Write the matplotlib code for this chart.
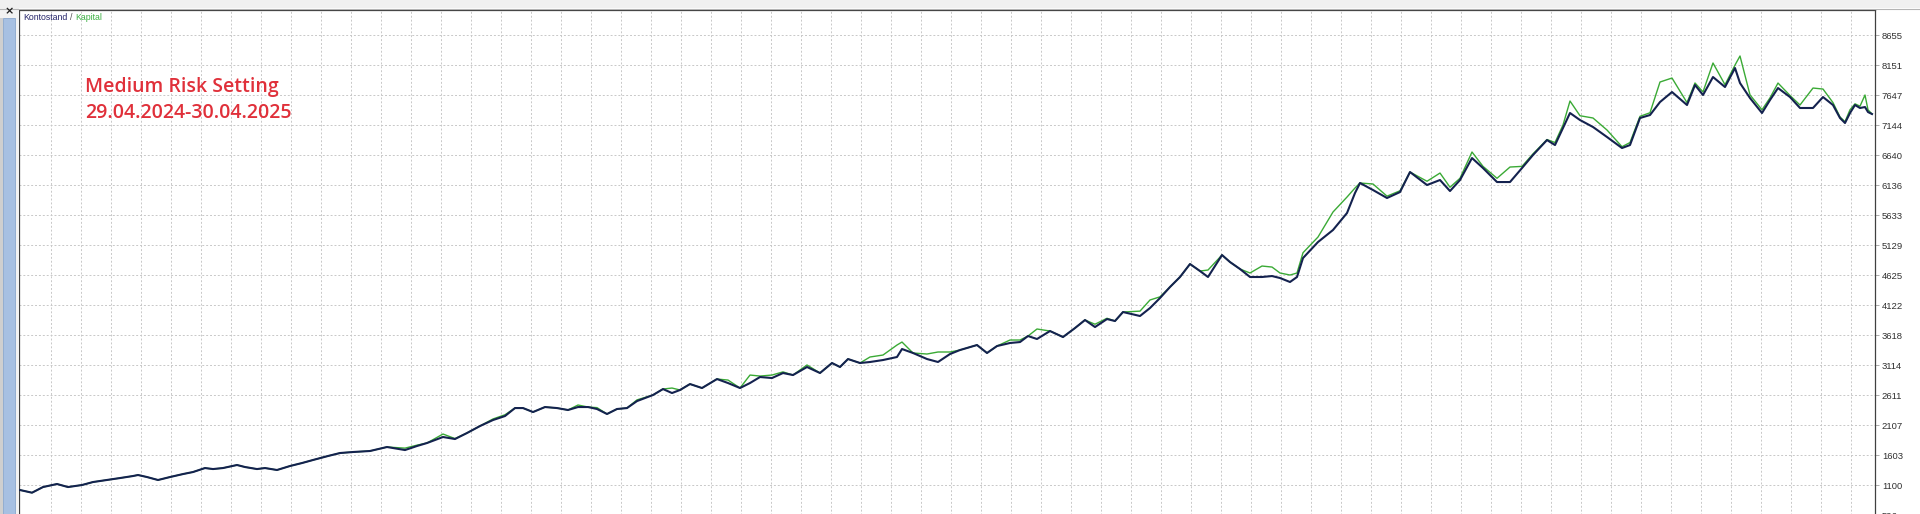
import numpy as np
import matplotlib.pyplot as plt
from matplotlib.patches import Rectangle

# deal number (x), balance and equity in USD
deals = [0, 12, 23, 37, 48, 62, 73, 87, 100, 113, 118, 127, 138, 150, 163, 173, 185, 193, 203, 217,
         225, 237, 245, 257, 270, 282, 293, 308, 320, 333, 350, 367, 385, 397, 407, 423, 435, 447, 460, 473,
         485, 495, 503, 513, 525, 537, 548, 558, 568, 577, 587, 597, 607, 617, 633, 643, 652, 660, 670, 682,
         697, 708, 720, 730, 740, 752, 763, 773, 787, 800, 812, 820, 828, 840, 850, 863, 877, 882, 893, 907,
         918, 930, 940, 957, 967, 977, 990, 1000, 1008, 1017, 1030, 1043, 1055, 1065, 1075, 1087, 1095, 1103, 1120, 1130,
         1140, 1150, 1160, 1170, 1180, 1188, 1202, 1210, 1220, 1230, 1242, 1252, 1260, 1270, 1277, 1283, 1298, 1313, 1327, 1335,
         1340, 1353, 1367, 1380, 1390, 1407, 1420, 1430, 1440, 1452, 1463, 1477, 1490, 1502, 1513, 1527, 1535, 1543, 1550, 1560,
         1573, 1587, 1602, 1610, 1620, 1630, 1640, 1652, 1667, 1675, 1683, 1693, 1705, 1715, 1720, 1730, 1742, 1750, 1758, 1770,
         1780, 1793, 1803, 1813, 1820, 1825, 1830, 1835, 1840, 1845, 1848, 1852]

balance = [1017, 972, 1067, 1118, 1067, 1101, 1151, 1185, 1218, 1252, 1269, 1235, 1185, 1235, 1285, 1319, 1386, 1369, 1386, 1437,
           1403, 1369, 1386, 1353, 1420, 1470, 1521, 1588, 1638, 1655, 1672, 1739, 1688, 1756, 1806, 1907, 1873, 1974, 2091, 2192,
           2259, 2393, 2393, 2326, 2410, 2393, 2360, 2410, 2410, 2377, 2293, 2377, 2393, 2510, 2612, 2712, 2645, 2696, 2796, 2729,
           2880, 2813, 2729, 2813, 2914, 2897, 2981, 2947, 3082, 2981, 3149, 3082, 3216, 3149, 3166, 3199, 3250, 3384, 3317, 3216,
           3166, 3300, 3367, 3451, 3317, 3434, 3485, 3501, 3602, 3552, 3686, 3585, 3736, 3871, 3753, 3887, 3854, 4005, 3938, 4072,
           4240, 4425, 4593, 4811, 4693, 4593, 4962, 4844, 4727, 4593, 4593, 4609, 4576, 4509, 4593, 4911, 5180, 5382, 5667, 6003,
           6171, 6053, 5919, 6019, 6355, 6137, 6221, 6036, 6221, 6590, 6422, 6187, 6187, 6422, 6641, 6892, 6808, 7094, 7346, 7228,
           7111, 6943, 6758, 6808, 7262, 7312, 7530, 7698, 7480, 7816, 7648, 7950, 7782, 8101, 7849, 7597, 7346, 7564, 7765, 7614,
           7430, 7430, 7614, 7480, 7262, 7178, 7346, 7480, 7430, 7446, 7362, 7329]

equity = [1017, 972, 1067, 1118, 1067, 1101, 1151, 1185, 1218, 1252, 1269, 1235, 1185, 1235, 1285, 1319, 1386, 1369, 1386, 1437,
          1403, 1369, 1386, 1353, 1420, 1470, 1521, 1588, 1638, 1655, 1672, 1739, 1720, 1770, 1806, 1957, 1880, 1974, 2091, 2210,
          2280, 2393, 2393, 2326, 2410, 2393, 2360, 2444, 2410, 2400, 2293, 2377, 2393, 2530, 2612, 2712, 2729, 2696, 2796, 2729,
          2880, 2863, 2729, 2947, 2930, 2947, 3000, 2947, 3116, 2981, 3149, 3082, 3216, 3149, 3250, 3283, 3451, 3501, 3317, 3300,
          3334, 3334, 3367, 3451, 3317, 3434, 3535, 3535, 3602, 3720, 3686, 3585, 3736, 3871, 3800, 3900, 3854, 4005, 4020, 4207,
          4260, 4425, 4593, 4811, 4693, 4710, 4962, 4844, 4727, 4660, 4777, 4760, 4660, 4626, 4660, 5000, 5264, 5684, 5935, 6087,
          6171, 6154, 5950, 6040, 6355, 6200, 6338, 6100, 6250, 6691, 6450, 6250, 6439, 6450, 6660, 6900, 6850, 7144, 7547, 7300,
          7262, 7060, 6780, 6850, 7290, 7350, 7866, 7933, 7520, 7850, 7700, 8185, 7820, 8150, 8303, 7650, 7400, 7600, 7849, 7640,
          7480, 7765, 7748, 7520, 7280, 7200, 7400, 7500, 7460, 7648, 7400, 7329]

ytick_vals = [596, 1100, 1603, 2107, 2611, 3114, 3618, 4122, 4625, 5129, 5633, 6136, 6640, 7144, 7647, 8151, 8655]

W, H = 1920, 514
fig = plt.figure(figsize=(W / 100, H / 100), dpi=100, facecolor='white')

# window chrome around the chart
fig.patches.append(Rectangle((0, 1 - 8 / H), 1, 8 / H, transform=fig.transFigure,
                             facecolor='#f0f0f0', edgecolor='none', zorder=0))
fig.add_artist(plt.Line2D([0, 1], [1 - 8.5 / H, 1 - 8.5 / H], transform=fig.transFigure,
                          color='#b4b4b4', lw=0.8))
fig.patches.append(Rectangle((0, 0), 19 / W, 1 - 8 / H, transform=fig.transFigure,
                             facecolor='#f2f2f2', edgecolor='none', zorder=0))
fig.patches.append(Rectangle((0, 0), 3 / W, 1 - 18 / H, transform=fig.transFigure,
                             facecolor='#cfcfcf', edgecolor='none', zorder=0))
fig.patches.append(Rectangle((3 / W, 0), 12 / W, 1 - 18 / H, transform=fig.transFigure,
                             facecolor='#a7c0e2', edgecolor='#8aa6cc', lw=0.6, zorder=0))
fig.text(9 / W, 1 - 11 / H, '×', fontsize=8, color='#202020', ha='center', va='center',
         fontweight='bold')

ax = fig.add_axes([19 / W, -26 / H, (1875 - 19) / W, (540 - 10) / H])
ax.set_facecolor('white')

ax.plot(deals, equity, color='#3aaa35', lw=1.0, zorder=3)
ax.plot(deals, balance, color='#14224f', lw=1.5, zorder=4)

ax.set_xlim(-1, 1855)
ax.set_ylim(178, 9075)

ax.set_xticks(np.arange(31, 1855, 30))
ax.set_xticklabels([])
ax.tick_params(axis='x', length=0)
ax.yaxis.tick_right()
ax.set_yticks(ytick_vals)
ax.set_yticklabels([str(v) for v in ytick_vals], family='Liberation Sans', fontsize=6.8, color='#303030')
ax.tick_params(axis='y', length=3, width=0.6, color='#a0a0a0', pad=2)
ax.grid(True, color='#c8c8c8', lw=0.7, ls=(0, (2, 2)))
ax.set_axisbelow(True)
for s in ['left', 'top', 'right']:
    ax.spines[s].set_color('#404040')
    ax.spines[s].set_linewidth(0.9)
ax.spines['bottom'].set_visible(False)

# header legend
t1 = fig.text(23 / W, 1 - 19.5 / H, 'Kontostand', fontsize=6.3, color='#25256a',
              family='Liberation Sans', va='baseline')
fig.canvas.draw()
r = fig.canvas.get_renderer()
x1 = t1.get_window_extent(r).x1
t2 = fig.text((x1 + 3) / W, 1 - 19.5 / H, '/', fontsize=6.3, color='#505050',
              family='Liberation Sans', va='baseline')
x2 = t2.get_window_extent(r).x1
fig.text((x2 + 3) / W, 1 - 19.5 / H, 'Kapital', fontsize=6.3, color='#3cb043',
         family='Liberation Sans', va='baseline')

# annotation
fig.text(85 / W, 1 - 92 / H, 'Medium Risk Setting', fontsize=14, color='#e0303a',
         family='Open Sans', fontweight='semibold', va='baseline')
fig.text(85 / W, 1 - 118 / H, '29.04.2024-30.04.2025', fontsize=14, color='#e0303a',
         family='Open Sans', fontweight='semibold', va='baseline')

fig.savefig('out.png', dpi=100, facecolor=fig.get_facecolor())
